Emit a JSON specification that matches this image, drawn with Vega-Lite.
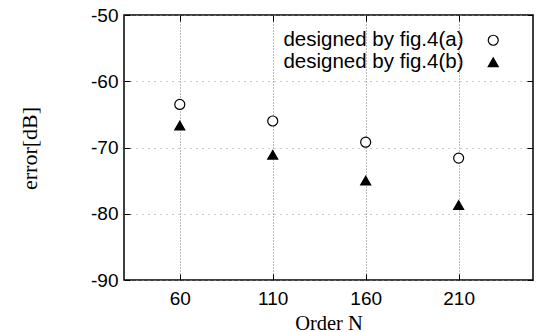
{
  "$schema": "https://vega.github.io/schema/vega-lite/v6.json",
  "width": 409,
  "height": 265,
  "autosize": {"type": "none"},
  "padding": {"left": 124, "top": 15, "right": 10, "bottom": 52},
  "background": "white",
  "config": {
    "view": {"stroke": "black", "strokeWidth": 1.5},
    "axis": {
      "labelFont": "Liberation Sans",
      "labelFontSize": 19,
      "labelColor": "black",
      "titleFont": "Liberation Serif",
      "titleFontSize": 20.5,
      "titleFontWeight": "normal",
      "titleColor": "black",
      "domain": false,
      "tickColor": "black",
      "tickSize": -6,
      "tickWidth": 1,
      "labelExpr": "datum.value < 0 ? '-' + abs(datum.value) : datum.label"
    },
    "legend": {"title": null, "orient": "none", "legendX": 359, "legendY": 15, "labelAlign": "right", "labelOffset": -40, "labelFont": "Liberation Sans", "labelFontSize": 20.5, "labelColor": "black", "symbolStrokeWidth": 1.2, "symbolSize": 100, "padding": 0, "rowPadding": 1, "labelLimit": 400}
  },
  "data": {
    "values": [
      {"N": 60, "error": -63.5, "series": "designed by fig.4(a)"},
      {"N": 110, "error": -66.0, "series": "designed by fig.4(a)"},
      {"N": 160, "error": -69.2, "series": "designed by fig.4(a)"},
      {"N": 210, "error": -71.6, "series": "designed by fig.4(a)"},
      {"N": 60, "error": -66.7, "series": "designed by fig.4(b)"},
      {"N": 110, "error": -71.1, "series": "designed by fig.4(b)"},
      {"N": 160, "error": -75.0, "series": "designed by fig.4(b)"},
      {"N": 210, "error": -78.7, "series": "designed by fig.4(b)"}
    ]
  },
  "layer": [
    {
      "mark": {"type": "point", "filled": true, "strokeWidth": 1.2, "opacity": 1, "size": 100},
      "encoding": {
        "x": {
          "field": "N", "type": "quantitative",
          "scale": {"domain": [30, 250], "nice": false, "zero": false},
          "axis": {"values": [60, 110, 160, 210], "title": "Order N", "grid": true, "gridDash": [1, 2], "gridColor": "#777", "gridWidth": 1, "labelPadding": 15, "titleY": 49, "titleBaseline": "alphabetic"}
        },
        "y": {
          "field": "error", "type": "quantitative",
          "scale": {"domain": [-90, -50], "nice": false, "zero": false},
          "axis": {"values": [-90, -80, -70, -60, -50], "title": "error[dB]", "titleFontSize": 22, "grid": true, "gridDash": [1, 5], "gridColor": "#999", "gridWidth": 1, "labelPadding": 12, "titleX": -95, "titleY": 133, "titleBaseline": "middle", "titleAlign": "center"}
        },
        "shape": {
          "field": "series", "type": "nominal",
          "scale": {"domain": ["designed by fig.4(a)", "designed by fig.4(b)"], "range": ["circle", "triangle-up"]}
        },
        "fill": {
          "field": "series", "type": "nominal",
          "scale": {"domain": ["designed by fig.4(a)", "designed by fig.4(b)"], "range": ["white", "black"]}
        },
        "stroke": {
          "field": "series", "type": "nominal",
          "scale": {"domain": ["designed by fig.4(a)", "designed by fig.4(b)"], "range": ["black", "black"]}
        }
      }
    },
    {
      "mark": {"type": "point", "opacity": 0},
      "encoding": {
        "x": {"field": "N", "type": "quantitative", "axis": {"orient": "top", "values": [60, 110, 160, 210], "labels": false, "title": null, "grid": false}},
        "y": {"field": "error", "type": "quantitative", "axis": {"orient": "right", "values": [-90, -80, -70, -60, -50], "labels": false, "title": null, "grid": false}}
      }
    }
  ],
  "resolve": {"axis": {"x": "independent", "y": "independent"}}
}
